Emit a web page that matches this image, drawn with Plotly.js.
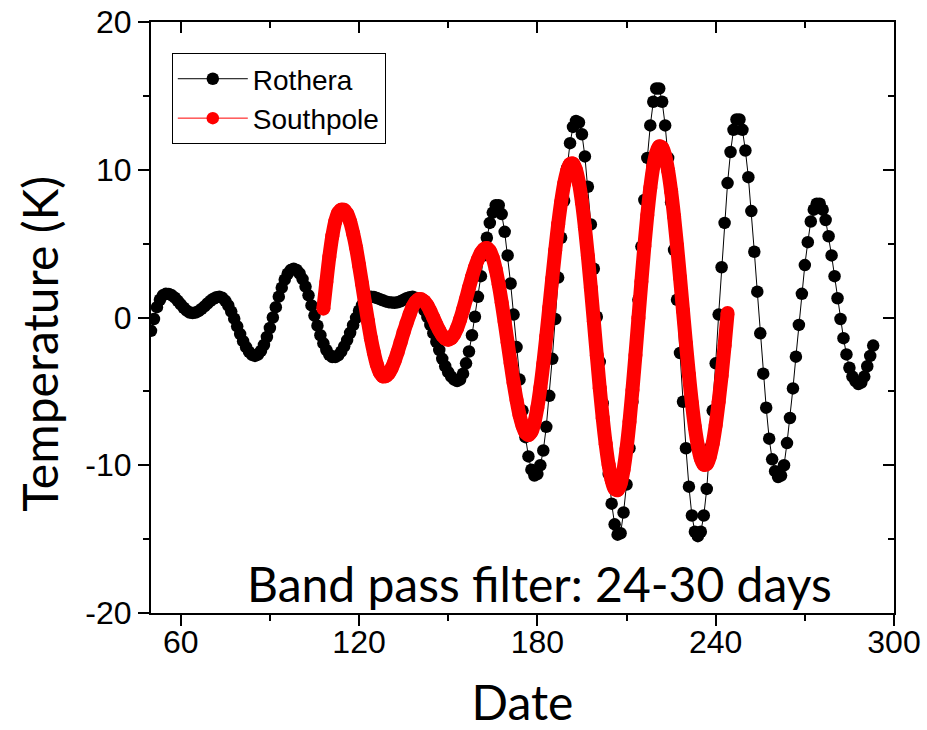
<!DOCTYPE html>
<html>
<head>
<meta charset="utf-8">
<script src="https://cdn.plot.ly/plotly-3.0.1.min.js"></script>
<style>html,body{margin:0;padding:0;background:#fff;}</style>
</head>
<body>
<div id="chart" style="width:927px;height:730px;"></div>
<script>
// ---- Data ----
const seriesNames = ["Rothera", "Southpole"];

// Rothera: daily values starting at day 50
const rotheraStartDay = 50;
const rotheraTemp = [
  -0.9, -0.1, 0.7, 1.2, 1.5, 1.6, 1.59, 1.5, 1.34, 1.13,            // 50-59
  0.89, 0.66, 0.47, 0.34, 0.3, 0.33, 0.43, 0.58, 0.75, 0.95,        // 60-69
  1.13, 1.27, 1.37, 1.4, 1.33, 1.13, 0.81, 0.4, -0.08, -0.6,        // 70-79
  -1.12, -1.6, -2.01, -2.33, -2.53, -2.6, -2.51, -2.26, -1.86, -1.32, // 80-89
  -0.71, 0.0, 0.7, 1.41, 2.02, 2.56, 2.96, 3.21, 3.3, 3.22,         // 90-99
  2.98, 2.6, 2.09, 1.5, 0.82, 0.13, -0.55, -1.2, -1.75, -2.2,       // 100-109
  -2.52, -2.68, -2.68, -2.56, -2.31, -1.95, -1.53, -1.04, -0.52, -0.02, // 110-119
  0.46, 0.84, 1.15, 1.33, 1.4, 1.38, 1.32, 1.24, 1.16, 1.09,        // 120-129
  1.04, 1.01, 1.0, 1.03, 1.1, 1.2, 1.3, 1.37, 1.4, 1.34,            // 130-139
  1.16, 0.87, 0.49, 0.03, -0.5, -1.06, -1.64, -2.2, -2.8, -3.3,     // 140-149
  -3.7, -4.0, -4.2, -4.3, -4.2, -3.8, -3.1, -2.3, -1.2, 0.05,       // 150-159
  1.4, 2.8, 4.2, 5.4, 6.4, 7.1, 7.6, 7.6, 7.0, 5.8,                 // 160-169
  4.2, 2.3, 0.2, -2.0, -4.2, -6.3, -8.1, -9.4, -10.3, -10.7,        // 170-179
  -10.6, -10.0, -9.0, -7.4, -5.3, -2.8, -0.1, 2.7, 5.4, 7.9,        // 180-189
  10.1, 11.8, 12.9, 13.3, 13.2, 12.4, 10.9, 8.85, 6.3, 3.3,         // 190-199
  0.05, -3.0, -5.8, -8.3, -10.6, -12.6, -14.0, -14.7, -14.6, -13.2, // 200-209
  -11.3, -8.85, -5.7, -2.3, 1.2, 4.8, 7.95, 10.8, 13.0, 14.6,       // 210-219
  15.5, 15.5, 14.6, 13.0, 10.8, 7.8, 4.57, 1.2, -2.4, -5.7,         // 220-229
  -8.85, -11.45, -13.4, -14.5, -14.8, -14.5, -13.4, -11.6, -8.85, -6.3, // 230-239
  -3.1, 0.2, 3.4, 6.4, 9.1, 11.2, 12.7, 13.4, 13.4, 12.7,           // 240-249
  11.3, 9.5, 7.2, 4.45, 1.75, -1.07, -3.8, -6.1, -8.2, -9.6,        // 250-259
  -10.4, -10.8, -10.7, -10.0, -8.5, -6.8, -4.8, -2.65, -0.5, 1.6,   // 260-269
  3.55, 5.1, 6.5, 7.3, 7.7, 7.7, 7.3, 6.6, 5.5, 4.2,                // 270-279
  2.8, 1.3, -0.1, -1.4, -2.5, -3.4, -4.0, -4.3, -4.5, -4.4,         // 280-289
  -4.0, -3.3, -2.6, -1.9                                            // 290-293
];

// Southpole: daily values starting at day 108
const southpoleStartDay = 108;
const southpoleTemp = [
  0.6, 2.4, 4.1, 5.5, 6.5, 7.1, 7.3, 7.28, 7.02, 6.49,              // 108-117
  5.69, 4.73, 3.55, 2.29, 1.0, -0.25, -1.41, -2.38, -3.19, -3.72,   // 118-127
  -3.98, -3.97, -3.78, -3.42, -2.93, -2.33, -1.68, -1.0, -0.38, 0.2, // 128-137
  0.72, 1.05, 1.23, 1.23, 1.09, 0.81, 0.42, -0.01, -0.47, -0.87,    // 138-147
  -1.21, -1.43, -1.5, -1.41, -1.14, -0.71, -0.14, 0.53, 1.26, 2.02, // 148-157
  2.73, 3.39, 3.93, 4.37, 4.63, 4.7, 4.51, 4.03, 3.25, 2.23,        // 158-167
  1.01, -0.31, -1.7, -3.08, -4.41, -5.58, -6.6, -7.33, -7.8, -7.95, // 168-177
  -7.74, -7.11, -6.1, -4.75, -3.13, -1.29, 0.66, 2.63, 4.53, 6.31,  // 178-187
  7.82, 9.05, 9.91, 10.38, 10.41, 9.98, 9.1, 7.79, 6.11, 4.16,      // 188-197
  1.99, -0.27, -2.57, -4.79, -6.82, -8.58, -9.99, -11.01, -11.59, -11.68, // 198-207
  -11.25, -10.3, -8.88, -7.06, -4.9, -2.53, -0.05, 2.42, 4.82, 6.94, // 208-217
  8.78, 10.2, 11.14, 11.58, 11.49, 10.93, 9.94, 8.55, 6.84, 4.86,   // 218-227
  2.7, 0.46, -1.77, -3.87, -5.79, -7.41, -8.68, -9.55, -9.96, -9.92, // 228-237
  -9.43, -8.54, -7.28, -5.71, -3.94, -1.9, 0.3                      // 238-244
];

const xTickVals = [60, 120, 180, 240, 300];
const xTickText = ["60", "120", "180", "240", "300"];
const yTickVals = [-20, -10, 0, 10, 20];
const yTickText = ["-20", "-10", "0", "10", "20"];
const xTitle = "Date";
const yTitle = "Temperature (K)";
const noteText = "Band pass filter: 24-30 days";

// ---- Build traces ----
const rotheraDays = rotheraTemp.map((_, i) => rotheraStartDay + i);
const southpoleDays = southpoleTemp.map((_, i) => southpoleStartDay + i);

const tickFont = {family: "Liberation Sans, Arial, sans-serif", size: 32, color: "#000"};
const titleFont = {family: "Lato, sans-serif", size: 48, color: "#000"};

const traces = [
  {
    x: rotheraDays, y: rotheraTemp, name: seriesNames[0],
    type: "scatter", mode: "lines+markers",
    line: {color: "#000000", width: 1},
    marker: {color: "#000000", size: 12.5, line: {width: 0}}
  },
  {
    x: southpoleDays, y: southpoleTemp, name: seriesNames[1],
    type: "scatter", mode: "lines+markers",
    line: {color: "#ff0000", width: 1},
    marker: {color: "#ff0000", size: 12.5, line: {width: 0}}
  },
  {
    // thick band drawn on the mirrored (top/right) axes, which share the same ranges
    x: southpoleDays, y: southpoleTemp, name: seriesNames[1], showlegend: false,
    xaxis: "x2", yaxis: "y2",
    type: "scatter", mode: "lines+markers",
    line: {color: "#ff0000", width: 14, shape: "spline", smoothing: 1},
    marker: {color: "#ff0000", size: 14, line: {width: 0}},
    hoverinfo: "skip"
  }
];

const axisCommon = {
  showgrid: false, zeroline: false, showline: true,
  linecolor: "#000", linewidth: 2, tickcolor: "#000", tickwidth: 2,
  fixedrange: true
};

const layout = {
  width: 927, height: 730,
  margin: {l: 151, r: 33, t: 22, b: 117},
  paper_bgcolor: "#fff", plot_bgcolor: "#fff",
  showlegend: true,
  legend: {
    x: 0.028, y: 0.9475, xanchor: "left", yanchor: "top",
    bgcolor: "#fff", bordercolor: "#000", borderwidth: 1,
    font: {family: "Liberation Sans, Arial, sans-serif", size: 28, color: "#000"},
    itemwidth: 70, tracegroupgap: 0
  },
  xaxis: Object.assign({}, axisCommon, {
    range: [50, 300], tickmode: "array", tickvals: xTickVals, ticktext: xTickText,
    ticks: "outside", ticklen: 11, ticklabelstandoff: -11,
    minor: {tickmode: "array", tickvals: [90, 150, 210, 270], ticks: "outside", ticklen: 6, tickwidth: 2, tickcolor: "#000"},
    tickfont: tickFont,
    title: {text: xTitle, font: titleFont, standoff: 42}
  }),
  xaxis2: Object.assign({}, axisCommon, {
    range: [50, 300], overlaying: "x", side: "top", anchor: "y2",
    tickmode: "array", tickvals: xTickVals, ticks: "inside", ticklen: 11,
    minor: {tickmode: "array", tickvals: [90, 150, 210, 270], ticks: "inside", ticklen: 6, tickwidth: 2, tickcolor: "#000"},
    showticklabels: false
  }),
  yaxis: Object.assign({}, axisCommon, {
    range: [-20, 20], tickmode: "array", tickvals: yTickVals, ticktext: yTickText,
    ticks: "outside", ticklen: 11,
    minor: {tickmode: "array", tickvals: [-15, -5, 5, 15], ticks: "outside", ticklen: 6, tickwidth: 2, tickcolor: "#000"},
    tickfont: tickFont
  }),
  yaxis2: Object.assign({}, axisCommon, {
    range: [-20, 20], overlaying: "y", side: "right", anchor: "x2",
    tickmode: "array", tickvals: yTickVals, ticks: "inside", ticklen: 11,
    minor: {tickmode: "array", tickvals: [-15, -5, 5, 15], ticks: "inside", ticklen: 6, tickwidth: 2, tickcolor: "#000"},
    showticklabels: false
  }),
  annotations: [
    {
      text: yTitle, textangle: -90, xref: "paper", yref: "paper",
      x: -0.15, y: 0.455, xanchor: "center", yanchor: "middle",
      showarrow: false, font: titleFont
    },
    {
      text: noteText, xref: "paper", yref: "paper",
      x: 0.5235, y: 0.05, xanchor: "center", yanchor: "middle",
      showarrow: false, font: titleFont
    }
  ]
};

Plotly.newPlot("chart", traces, layout, {staticPlot: true, displayModeBar: false});
</script>
</body>
</html>
